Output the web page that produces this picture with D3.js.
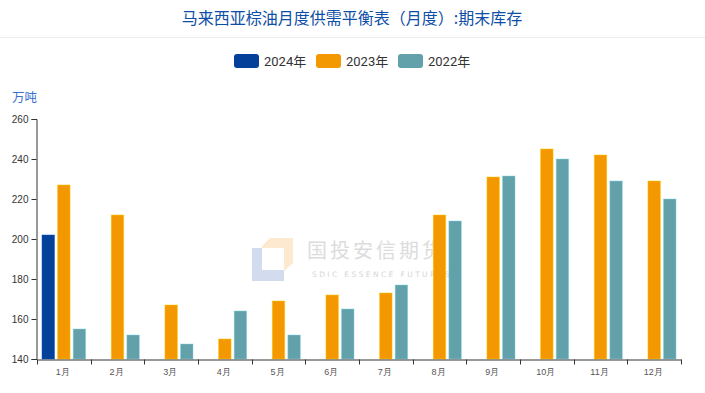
<!DOCTYPE html>
<html>
<head>
<meta charset="utf-8">
<script src="https://cdn.jsdelivr.net/npm/d3@7/dist/d3.min.js"></script>
<style>
html,body{margin:0;padding:0;background:#fff;}
svg{display:block;font-family:"Noto Sans CJK SC","Noto Sans",sans-serif;}
</style>
</head>
<body>
<svg id="chart" width="705" height="393"></svg>
<script>
const months = ["1月","2月","3月","4月","5月","6月","7月","8月","9月","10月","11月","12月"];
const seriesNames = ["2024年","2023年","2022年"];
const seriesColors = ["#02409a","#f39800","#62a0aa"];
const values2024 = [202,null,null,null,null,null,null,null,null,null,null,null];
const values2023 = [227,212,167,150,169,172,173,212,231,245,242,229];
const values2022 = [155,152,147.5,164,152,165,177,209,231.5,240,229,220];
const yTicks = [140,160,180,200,220,240,260];
const titleText = "马来西亚棕油月度供需平衡表（月度）:期末库存";
const unitText = "万吨";

const seriesValues = [values2024, values2023, values2022];
const svg = d3.select("#chart");
const W = 705, H = 393;
const margin = {left:37, right:24, top:119, bottom:34};

// title
svg.append("text").attr("x", 352).attr("y", 24).attr("text-anchor","middle")
  .attr("font-size", 16).attr("fill", "#0d4ea6").text(titleText);
svg.append("line").attr("x1",0).attr("x2",W).attr("y1",37.5).attr("y2",37.5)
  .attr("stroke","#ececec").attr("stroke-width",1);

// legend
const legendX = [234, 316, 398];
const lg = svg.append("g");
seriesNames.forEach((n,i)=>{
  lg.append("rect").attr("x",legendX[i]).attr("y",54).attr("width",25).attr("height",14)
    .attr("rx",3).attr("fill",seriesColors[i]);
  lg.append("text").attr("x",legendX[i]+30).attr("y",66).attr("font-size",13)
    .attr("fill","#333").attr("font-family","Roboto,'Noto Sans CJK SC',sans-serif").text(n);
});

// unit
svg.append("text").attr("x",12).attr("y",102).attr("font-size",12.5).attr("fill","#3a6fd0").text(unitText);

const x0 = d3.scaleBand().domain(months).range([margin.left, W - margin.right]).paddingInner(0).paddingOuter(0);
const bw = x0.bandwidth();
const x1 = d3.scaleBand().domain(seriesNames).range([5, bw - 5]).paddingInner(0.2).paddingOuter(0);
const y = d3.scaleLinear().domain([140,260]).range([H - margin.bottom, margin.top]);

// watermark
const wm = svg.append("g");
wm.append("path").attr("d","M252,248 L262,248 L262,270 L284,270 L284,281 L252,281 Z").attr("fill","#d3dcef");
wm.append("path").attr("d","M262,248 L262,246 L270,238 L293,238 L293,263 L284,271 L284,248 Z").attr("fill","#fde9d0");
wm.append("text").attr("x",307).attr("y",258).attr("font-size",20).attr("fill","#dcdcdc")
  .attr("letter-spacing",3).text("国投安信期货");
wm.append("text").attr("x",312).attr("y",277).attr("font-size",7.5).attr("fill","#d6d6d6")
  .attr("letter-spacing",2.4).attr("font-family","'DejaVu Sans',sans-serif").text("SDIC ESSENCE FUTURES");

// bars
const gBars = svg.append("g");
months.forEach((m,mi)=>{
  seriesNames.forEach((s,si)=>{
    const v = seriesValues[si][mi];
    if (v == null) return;
    gBars.append("rect")
      .attr("x", x0(m) + x1(s))
      .attr("y", y(v))
      .attr("width", x1.bandwidth())
      .attr("height", y(140) - y(v))
      .attr("fill", seriesColors[si])
      .attr("stroke", d3.color(seriesColors[si]).brighter(0.8))
      .attr("stroke-opacity", 0.6)
      .attr("stroke-width", 0.8);
  });
});

// y axis
const yAxis = d3.axisLeft(y).tickValues(yTicks).tickSize(5).tickPadding(3);
const gy = svg.append("g").attr("transform",`translate(${margin.left - 0.5},0)`).call(yAxis);
gy.select(".domain").attr("stroke","#333");
gy.selectAll(".tick line").attr("stroke","#333");
gy.selectAll(".tick text").attr("font-size",10).attr("fill","#333")
  .attr("font-family","'Liberation Sans',Arial,sans-serif");

// x axis
const xAxis = d3.axisBottom(x0).tickSize(0).tickPadding(9);
const gx = svg.append("g").attr("transform",`translate(0,${H - margin.bottom + 0.5})`).call(xAxis);
gx.select(".domain").attr("stroke","#333");
gx.selectAll(".tick text").attr("font-size",9).attr("fill","#555").attr("dx",-1);
const boundaries = months.map(m=>x0(m)).concat([x0(months[months.length-1]) + bw]);
gx.selectAll(".bnd").data(boundaries).enter().append("line")
  .attr("x1",d=>Math.round(d)+0.5).attr("x2",d=>Math.round(d)+0.5)
  .attr("y1",0).attr("y2",5).attr("stroke","#333");
</script>
</body>
</html>
